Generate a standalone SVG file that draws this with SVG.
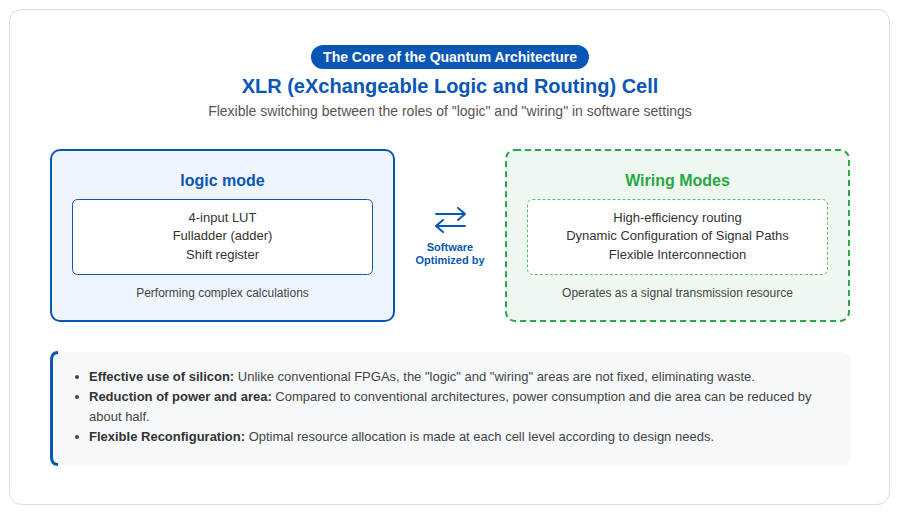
<svg xmlns="http://www.w3.org/2000/svg" width="900" height="522" viewBox="0 0 900 522">
<style>
text{font-family:"Liberation Sans",Arial,sans-serif}
.c{text-anchor:middle}
.item{font-size:13px;fill:#333}
.foot{font-size:12px;fill:#444}
.b{font-size:13px;fill:#444}
.bb{font-weight:bold;fill:#333}
</style>
<rect x="0" y="0" width="900" height="522" fill="#ffffff"/>
<rect x="9.5" y="9.5" width="880" height="495" rx="12" fill="#ffffff" stroke="#dcdcdc"/>
<g id="header">
<rect x="311" y="45" width="278" height="24" rx="12" fill="#0a56b5"/>
<text x="450" y="62" class="c" font-size="14" font-weight="bold" fill="#ffffff">The Core of the Quantum Architecture</text>
<text x="450" y="93" class="c" font-size="20" font-weight="bold" fill="#0a56b5">XLR (eXchangeable Logic and Routing) Cell</text>
<text x="450" y="116" class="c" font-size="14" fill="#555">Flexible switching between the roles of "logic" and "wiring" in software settings</text>
</g>
<g id="logic-mode">
<rect x="51" y="150" width="343" height="171" rx="9" fill="#eef5fd" stroke="#0a56b5" stroke-width="2"/>
<text x="222.5" y="186" class="c" font-size="16" font-weight="bold" fill="#0a56b5">logic mode</text>
<rect x="72.5" y="199.5" width="300" height="75" rx="5" fill="#ffffff" stroke="#0a56b5"/>
<text x="222.5" y="222" class="c item">4-input LUT</text>
<text x="222.5" y="240" class="c item">Fulladder (adder)</text>
<text x="222.5" y="259" class="c item">Shift register</text>
<text x="222.5" y="297" class="c foot">Performing complex calculations</text>
</g>
<g id="wiring-modes">
<rect x="506" y="150" width="343" height="171" rx="9" fill="#eef8f0" stroke="#28a745" stroke-width="2" stroke-dasharray="6 4"/>
<text x="677.5" y="186" class="c" font-size="16" font-weight="bold" fill="#28a745">Wiring Modes</text>
<rect x="527.5" y="199.5" width="300" height="75" rx="5" fill="#ffffff" stroke="#5cbf74" stroke-dasharray="3 2"/>
<text x="677.5" y="222" class="c item">High-efficiency routing</text>
<text x="677.5" y="240" class="c item">Dynamic Configuration of Signal Paths</text>
<text x="677.5" y="259" class="c item">Flexible Interconnection</text>
<text x="677.5" y="297" class="c foot">Operates as a signal transmission resource</text>
</g>
<g id="connectors" fill="none" stroke="#0a56b5" stroke-width="2" stroke-linecap="round" stroke-linejoin="round">
<path d="M436 214H465M458 208L465 214L458 220"/>
<path d="M465 226H436M443 220L436 226L443 232"/>
</g>
<g id="switch-label">
<text x="450" y="251" class="c" font-size="11" font-weight="bold" fill="#0a56b5">Software</text>
<text x="450" y="264" class="c" font-size="11" font-weight="bold" fill="#0a56b5">Optimized by</text>
</g>
<g id="benefits">
<rect x="50" y="352" width="800" height="113" rx="8" fill="#f6f8fa"/>
<path d="M58 352.5Q51.5 352.5 51.5 360V457Q51.5 464.5 58 464.5" fill="none" stroke="#0a56b5" stroke-width="3"/>
<circle cx="77" cy="377" r="2" fill="#444"/>
<circle cx="77" cy="397" r="2" fill="#444"/>
<circle cx="77" cy="437" r="2" fill="#444"/>
<text x="89" y="381" class="b"><tspan class="bb">Effective use of silicon:</tspan> Unlike conventional FPGAs, the "logic" and "wiring" areas are not fixed, eliminating waste.</text>
<text x="89" y="401" class="b"><tspan class="bb">Reduction of power and area:</tspan> Compared to conventional architectures, power consumption and die area can be reduced by</text>
<text x="89" y="421" class="b">about half.</text>
<text x="89" y="441" class="b"><tspan class="bb">Flexible Reconfiguration:</tspan> Optimal resource allocation is made at each cell level according to design needs.</text>
</g>
</svg>
